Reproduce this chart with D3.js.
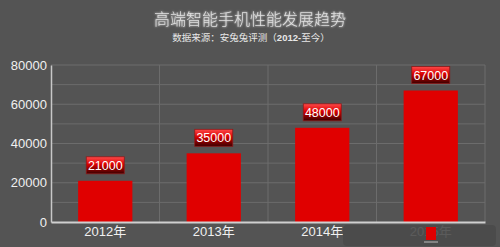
<!DOCTYPE html>
<html><head><meta charset="utf-8">
<script src="https://cdn.jsdelivr.net/npm/d3@7/dist/d3.min.js"></script>
<style>html,body{margin:0;padding:0;background:#545454;}svg{display:block;}</style>
</head><body>
<script>
const categories = ["2012年","2013年","2014年","2015年"];
const values = [21000,35000,48000,67000];
const yTicks = [0,20000,40000,60000,80000];
const title = "高端智能手机性能发展趋势";

const W=500,H=247;
const svg=d3.select("body").append("svg").attr("width",W).attr("height",H);
const defs=svg.append("defs");
const g1=defs.append("linearGradient").attr("id","lbl").attr("x1",0).attr("y1",0).attr("x2",0).attr("y2",1);
g1.append("stop").attr("offset","0%").attr("stop-color","#ff4a4a");
g1.append("stop").attr("offset","45%").attr("stop-color","#d80000");
g1.append("stop").attr("offset","100%").attr("stop-color","#3a0000");
const f=defs.append("filter").attr("id","glow").attr("x","-10%").attr("y","-30%").attr("width","120%").attr("height","160%");
f.append("feGaussianBlur").attr("stdDeviation",0.8).attr("result","b");
const fm=f.append("feMerge");fm.append("feMergeNode").attr("in","b");fm.append("feMergeNode").attr("in","SourceGraphic");

svg.append("rect").attr("width",W).attr("height",H).attr("fill","#545454");

const x=d3.scaleBand().domain(categories).range([51,485]).paddingInner(0.5).paddingOuter(0.25);
const xb=d3.scaleBand().domain(categories).range([51,485]);
const y=d3.scaleLinear().domain([0,80000]).range([222,65]);

// grid
const minor=d3.range(10000,80001,10000);
svg.append("g").selectAll("line").data(minor).join("line")
 .attr("x1",51).attr("x2",485).attr("y1",d=>y(d)).attr("y2",d=>y(d))
 .attr("stroke","#6c6c6c").attr("stroke-width",1);
svg.append("g").selectAll("line").data(categories.slice(1).concat(["end"])).join("line")
 .attr("x1",d=>d==="end"?485:xb(d)).attr("x2",d=>d==="end"?485:xb(d)).attr("y1",65).attr("y2",222)
 .attr("stroke","#6c6c6c").attr("stroke-width",1);

// bars
svg.append("g").selectAll("rect").data(values).join("rect")
 .attr("x",(d,i)=>x(categories[i])).attr("width",x.bandwidth())
 .attr("y",d=>y(d)).attr("height",d=>y(0)-y(d)).attr("fill","#e00000");

// axes
const ya=svg.append("g").attr("transform","translate(51,0)")
 .call(d3.axisLeft(y).tickValues(yTicks).tickFormat(d3.format("d")).tickSize(0).tickPadding(4));
ya.select(".domain").attr("stroke","#c8c8c8").attr("stroke-width",1.5);
ya.selectAll("text").attr("fill","#f0f0f0").attr("font-size",13).attr("font-family","Liberation Sans, Arial, sans-serif");
const xa=svg.append("g").attr("transform","translate(0,222)")
 .call(d3.axisBottom(xb).tickSize(0).tickPadding(5));
xa.select(".domain").attr("stroke","#d0d0d0").attr("stroke-width",2);
xa.selectAll("text").attr("fill","#f0f0f0").attr("font-size",13).attr("font-family","Liberation Sans, 'Noto Sans CJK SC', sans-serif");

// labels
const lg=svg.append("g").selectAll("g").data(values).join("g")
 .attr("transform",(d,i)=>`translate(${x(categories[i])+x.bandwidth()/2},${y(d)-7})`);
lg.append("rect").attr("x",-19).attr("y",-17).attr("width",38).attr("height",17)
 .attr("fill","url(#lbl)").attr("stroke","#8a1a1a").attr("stroke-width",0.8);
lg.append("text").attr("text-anchor","middle").attr("y",-4).attr("fill","#ffffff")
 .attr("font-size",12.5).attr("font-family","Liberation Sans, Arial, sans-serif").text(d=>d);

// title
svg.append("text").attr("x",250).attr("y",25).attr("text-anchor","middle")
 .attr("fill","#e0e0e0").attr("font-size",16).attr("font-weight",300).attr("font-family","'Noto Sans CJK SC', sans-serif")
 .attr("filter","url(#glow)").text(title);
const st=svg.append("text").attr("x",251).attr("y",41).attr("text-anchor","middle")
 .attr("fill","#e8e8e8").attr("font-size",9.5).attr("font-family","'Noto Sans CJK SC', sans-serif");
st.append("tspan").text("数据来源：安兔兔评测（");
st.append("tspan").attr("font-weight","bold").attr("font-family","Liberation Sans, Arial, sans-serif").text("2012-");
st.append("tspan").text("至今）");

// watermark overlay
svg.append("rect").attr("x",343).attr("y",225).attr("width",153).attr("height",21).attr("rx",4)
 .attr("fill","#4a4a4a").attr("opacity",0.9);
svg.append("rect").attr("x",426).attr("y",227).attr("width",10).attr("height",13).attr("fill","#e00000");
svg.append("line").attr("x1",424).attr("x2",438).attr("y1",242).attr("y2",242).attr("stroke","#bbb").attr("stroke-width",1);
</script>
</body></html>
